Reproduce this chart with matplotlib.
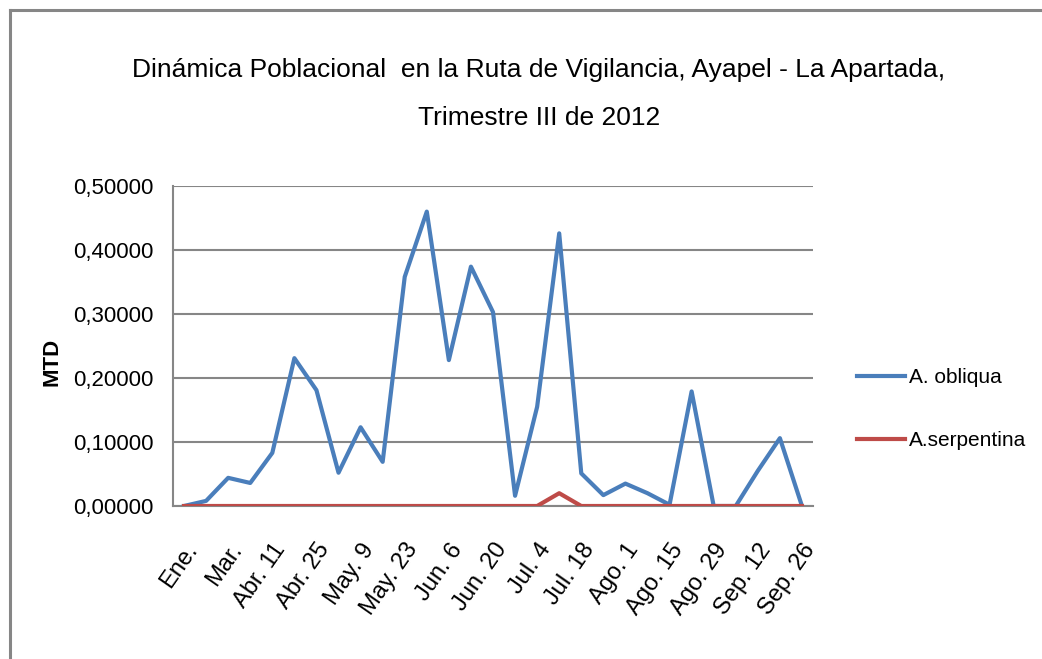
import matplotlib
matplotlib.use("Agg")
import matplotlib.pyplot as plt
from matplotlib.lines import Line2D

plt.rcParams['font.family'] = ['Liberation Sans', 'DejaVu Sans']

categories = ["Ene.", "Feb.", "Mar.", "Abr. 4", "Abr. 11", "Abr. 18", "Abr. 25", "May. 2",
              "May. 9", "May. 16", "May. 23", "May. 30", "Jun. 6", "Jun. 13", "Jun. 20",
              "Jun. 27", "Jul. 4", "Jul. 11", "Jul. 18", "Jul. 25", "Ago. 1", "Ago. 8",
              "Ago. 15", "Ago. 22", "Ago. 29", "Sep. 5", "Sep. 12", "Sep. 19", "Sep. 26"]
a_obliqua = [0.000, 0.008, 0.044, 0.036, 0.083, 0.231, 0.181, 0.052, 0.123, 0.069,
             0.358, 0.460, 0.228, 0.374, 0.303, 0.016, 0.155, 0.426, 0.051, 0.017,
             0.035, 0.020, 0.002, 0.179, 0.000, 0.000, 0.055, 0.106, 0.000]
a_serpentina = [0.0] * 17 + [0.020] + [0.0] * 11
yticks = [0.0, 0.1, 0.2, 0.3, 0.4, 0.5]
ytick_labels = ["0,00000", "0,10000", "0,20000", "0,30000", "0,40000", "0,50000"]
title = "Dinámica Poblacional  en la Ruta de Vigilancia, Ayapel - La Apartada,\nTrimestre III de 2012"

W, H = 1042, 659
fig = plt.figure(figsize=(W / 100, H / 100), dpi=100)
ax = fig.add_axes([173 / W, 1 - 506 / H, (813 - 173) / W, (506 - 186) / H])

x = list(range(len(categories)))
blue = "#4A7EBB"
red = "#BE4B48"
ax.plot(x, a_obliqua, color=blue, lw=3.0, label="A. obliqua", zorder=3)
ax.plot(x, a_serpentina, color=red, lw=3.0, label="A.serpentina", zorder=4)

ax.set_xlim(-0.5, len(categories) - 0.5)
ax.set_ylim(0, 0.5)
ax.set_yticks(yticks)
ax.set_yticklabels(ytick_labels, fontsize=16)
ax.set_xticks(x[::2])
ax.set_xticklabels(categories[::2], rotation=55, ha='right', va='top',
                   rotation_mode='anchor', fontsize=17)
ax.tick_params(axis='y', length=0, pad=14)
ax.tick_params(axis='x', length=0, pad=24)
ax.grid(axis='y', color='#868686', lw=1.5)
ax.set_axisbelow(True)
for s in ['top', 'right']:
    ax.spines[s].set_visible(False)
ax.spines['left'].set_color('#868686')
ax.spines['left'].set_linewidth(1.5)
ax.spines['bottom'].set_color('#868686')
ax.spines['bottom'].set_linewidth(1.5)

fig.text(52 / W, 1 - 362 / H, "MTD", rotation=90, fontsize=16, fontweight='bold',
         ha='center', va='center')
fig.text(539 / W, 1 - 94 / H, title, ha='center', va='center', fontsize=19,
         linespacing=2.25)

fig.legend(handles=ax.get_lines(), loc='center left',
           bbox_to_anchor=(838 / W, 1 - 409 / H), frameon=False, fontsize=15,
           handlelength=2.3, handletextpad=0.2, labelspacing=2.1)

# outer border
fig.add_artist(Line2D([9.5 / W, 9.5 / W], [0, 1 - 9.5 / H], color='#868686', lw=2.2))
fig.add_artist(Line2D([9.5 / W, 1], [1 - 9.5 / H, 1 - 9.5 / H], color='#868686', lw=2.2))

fig.savefig("out.png", dpi=100)
